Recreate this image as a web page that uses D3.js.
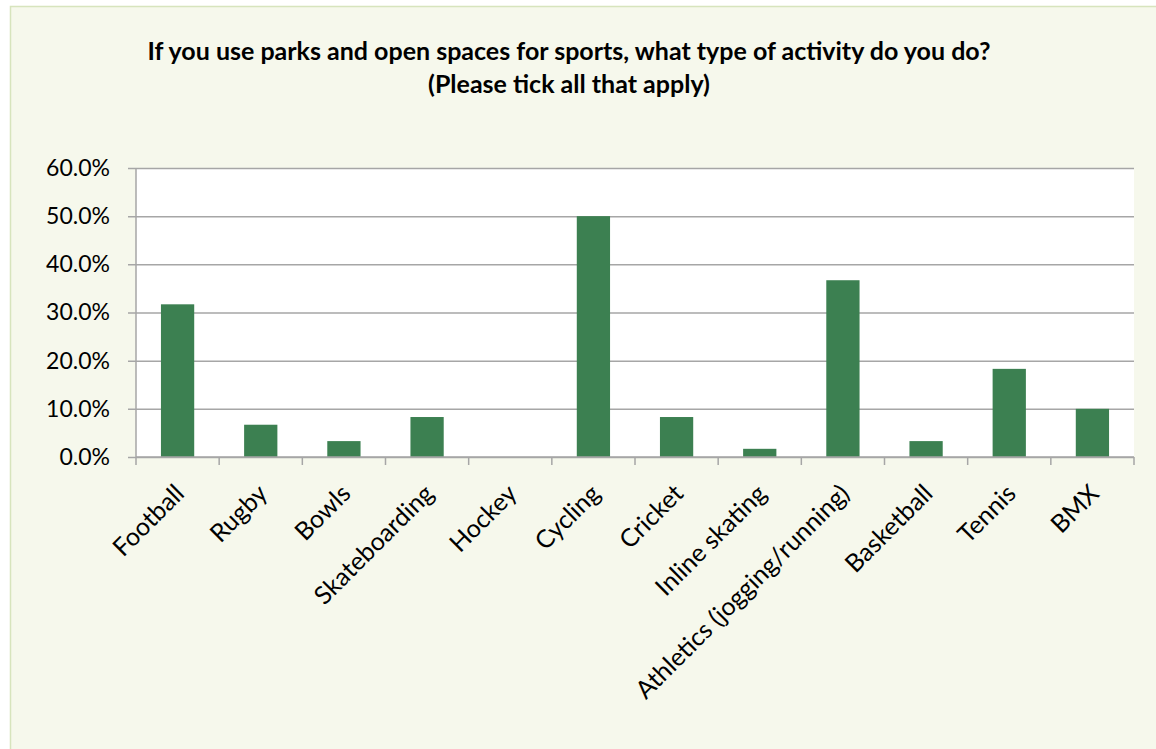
<!DOCTYPE html>
<html>
<head>
<meta charset="utf-8">
<script src="https://cdn.jsdelivr.net/npm/d3@7"></script>
<style>
  html, body { margin: 0; padding: 0; background: #ffffff; }
  svg { display: block; }
</style>
</head>
<body>
<svg id="chart" width="1156" height="749"></svg>
<script>
// Survey responses: share of park users doing each activity
const categories = ["Football", "Rugby", "Bowls", "Skateboarding", "Hockey", "Cycling",
  "Cricket", "Inline skating", "Athletics (jogging/running)", "Basketball", "Tennis", "BMX"];
const values = [0.317, 0.067, 0.033, 0.083, 0.0, 0.500, 0.083, 0.017, 0.367, 0.033, 0.183, 0.100];
const yTicks = [0, 0.1, 0.2, 0.3, 0.4, 0.5, 0.6];
const titleLines = [
  "If you use parks and open spaces for sports, what type of activity do you do?",
  "(Please tick all that apply)"
];

const svg = d3.select("#chart");
const font = "Lato, 'Open Sans', sans-serif";

// chart frame
svg.append("rect")
  .attr("x", 10.5).attr("y", 6.5)
  .attr("width", 1200).attr("height", 800)
  .attr("fill", "#f6f8ec")
  .attr("stroke", "#d7e4bd").attr("stroke-width", 1.5);

const plot = { left: 136, right: 1134, top: 168, bottom: 457 };

const x = d3.scaleBand()
  .domain(categories)
  .range([plot.left, plot.right])
  .paddingInner(0.6)
  .paddingOuter(0.3);

const y = d3.scaleLinear()
  .domain([0, 0.6])
  .range([plot.bottom, plot.top]);

// plot area
svg.append("rect")
  .attr("x", plot.left).attr("y", plot.top)
  .attr("width", plot.right - plot.left).attr("height", plot.bottom - plot.top)
  .attr("fill", "#ffffff");

// title
svg.append("g").selectAll("text")
  .data(titleLines)
  .join("text")
  .attr("x", 569)
  .attr("y", (d, i) => 60 + i * 33)
  .attr("text-anchor", "middle")
  .attr("font-family", font)
  .attr("font-weight", "bold")
  .attr("font-size", 25)
  .attr("fill", "#000")
  .text(d => d);

// y axis with gridlines
const yAxis = d3.axisLeft(y)
  .tickValues(yTicks)
  .tickFormat(d3.format(".1%"))
  .tickSize(-(plot.right - plot.left))
  .tickPadding(26);

const gy = svg.append("g")
  .attr("transform", `translate(${plot.left},0)`)
  .call(yAxis);
gy.select(".domain").remove();
gy.selectAll(".tick line")
  .attr("x1", -8)
  .attr("stroke", "#a6a6a6").attr("stroke-width", 1.5);
gy.selectAll(".tick text")
  .attr("font-family", font)
  .attr("font-size", 23)
  .attr("fill", "#000");

// bars
svg.append("g").selectAll("rect")
  .data(values)
  .join("rect")
  .attr("x", (d, i) => x(categories[i]))
  .attr("y", d => y(d))
  .attr("width", x.bandwidth())
  .attr("height", d => y(0) - y(d))
  .attr("fill", "#3c8051");

// left axis line
svg.append("line")
  .attr("x1", plot.left).attr("x2", plot.left)
  .attr("y1", plot.top).attr("y2", plot.bottom)
  .attr("stroke", "#a6a6a6").attr("stroke-width", 1.5);

// x axis: boundary ticks between categories
const boundaries = d3.range(categories.length + 1).map(i => plot.left + i * (plot.right - plot.left) / categories.length);
const gx = svg.append("g");
gx.append("line")
  .attr("x1", plot.left).attr("x2", plot.right)
  .attr("y1", plot.bottom).attr("y2", plot.bottom)
  .attr("stroke", "#a6a6a6").attr("stroke-width", 1.5);
gx.selectAll("line.tick")
  .data(boundaries)
  .join("line")
  .attr("class", "tick")
  .attr("x1", d => d).attr("x2", d => d)
  .attr("y1", plot.bottom).attr("y2", plot.bottom + 8)
  .attr("stroke", "#a6a6a6").attr("stroke-width", 1.5);

// rotated category labels
gx.selectAll("text")
  .data(categories)
  .join("text")
  .attr("transform", d => `translate(${x(d) + x.bandwidth() / 2 + 2},${plot.bottom + 32}) rotate(-45)`)
  .attr("text-anchor", "end")
  .attr("dy", "0.35em")
  .attr("font-family", font)
  .attr("font-size", 25)
  .attr("fill", "#000")
  .text(d => d);
</script>
</body>
</html>
